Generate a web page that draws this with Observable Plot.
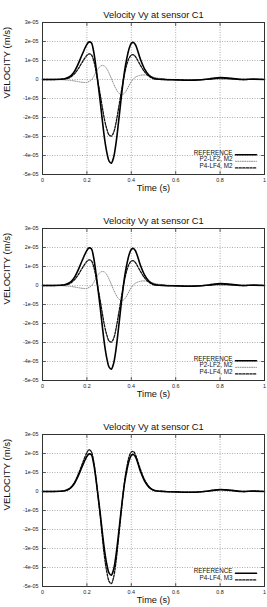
<!DOCTYPE html>
<html>
<head>
<meta charset="utf-8">
<script src="https://cdn.jsdelivr.net/npm/d3@7"></script>
<script src="https://cdn.jsdelivr.net/npm/@observablehq/plot@0.6"></script>
<style>
  html, body { margin: 0; padding: 0; background: #fff; }
  #chart { width: 267px; }
  #chart svg { display: block; }
</style>
</head>
<body>
<div id="chart"></div>
<script>
// ---- data (velocity values in units of 1e-05 m/s) ----
const time = [0,0.05,0.08,0.10,0.12,0.14,0.16,0.18,0.20,0.21,0.22,0.23,0.24,0.25,0.26,0.27,0.28,0.29,0.30,0.31,0.32,0.33,0.34,0.35,0.36,0.37,0.38,0.39,0.40,0.41,0.42,0.44,0.46,0.48,0.50,0.55,0.60,0.65,0.70,0.75,0.80,0.85,0.90,0.95,1.00];

const reference = [0,0,0.01,0.04,0.13,0.36,0.8,1.35,1.85,1.98,1.93,1.5,0.72,-0.2,-1.15,-2.2,-3.15,-3.85,-4.3,-4.4,-4.12,-3.45,-2.5,-1.45,-0.42,0.47,1.12,1.62,1.9,1.95,1.8,1.1,0.55,0.22,0.07,0,-0.02,-0.04,-0.03,0.03,0.1,0.06,0,0.02,0];

const p2lf2M2 = [0,0,-0.01,-0.02,-0.04,-0.07,-0.11,-0.15,-0.15,-0.1,-0.02,0.14,0.36,0.56,0.69,0.74,0.7,0.56,0.33,0.06,-0.22,-0.47,-0.66,-0.77,-0.79,-0.71,-0.53,-0.31,-0.11,0.04,0.13,0.22,0.24,0.2,0.12,0.03,0,0,0,0,0.01,0,0,0,0];

const p4lf4M2 = [0,0,0.01,0.03,0.09,0.25,0.55,0.93,1.27,1.35,1.3,1.02,0.5,-0.15,-0.8,-1.5,-2.15,-2.62,-2.92,-2.98,-2.8,-2.35,-1.7,-1.0,-0.3,0.32,0.8,1.12,1.28,1.3,1.18,0.77,0.4,0.17,0.05,0,-0.01,-0.03,-0.02,0.02,0.07,0.04,0,0.01,0];

const p4lf4M3 = [0,0,0.01,0.04,0.14,0.4,0.88,1.48,2.05,2.2,2.1,1.62,0.8,-0.25,-1.3,-2.45,-3.5,-4.25,-4.73,-4.85,-4.53,-3.8,-2.75,-1.6,-0.46,0.55,1.3,1.83,2.08,2.1,1.9,1.2,0.62,0.26,0.08,0,-0.02,-0.04,-0.03,0.03,0.1,0.06,0,0.02,0];

const xTicks = [0,0.2,0.4,0.6,0.8,1];
const xTickLabels = ["0","0.2","0.4","0.6","0.8","1"];
const yTicks = [-5,-4,-3,-2,-1,0,1,2,3];
const yTickLabels = ["-5e-05","-4e-05","-3e-05","-2e-05","-1e-05","0","1e-05","2e-05","3e-05"];

const titleText = "Velocity Vy at sensor C1";
const xLabel = "Time (s)";
const yLabel = "VELOCITY (m/s)";

// ---- styles ----
const styles = {
  "REFERENCE":  {stroke: "#000", strokeWidth: 1.6, strokeDasharray: null},
  "P2-LF2, M2": {stroke: "#8c8c8c", strokeWidth: 1.0, strokeDasharray: "1,1.3"},
  "P4-LF4, M2": {stroke: "#111", strokeWidth: 1.3, strokeDasharray: "2.2,1.4"},
  "P4-LF4, M3": {stroke: "#111", strokeWidth: 1.3, strokeDasharray: "2.2,1.4"}
};

const lineShape = {draw(context, l) { context.moveTo(0, 0); context.lineTo(0, -l); }};

function makeRows(names, valuesList) {
  const rows = [];
  names.forEach((name, k) => {
    time.forEach((t, i) => rows.push({series: name, t, v: valuesList[k][i]}));
  });
  return rows;
}

function panel(names, valuesList, height, marginBottom) {
  const rows = makeRows(names, valuesList);
  const drawOrder = names.slice(1).concat([names[0]]);
  const n = names.length;
  const legendDy = i => -6.6 - (n - 1 - i) * 6.6;
  const marks = [
    Plot.gridX(xTicks.slice(1, -1), {stroke: "#9a9a9a", strokeOpacity: 1, strokeDasharray: "1,1.5", strokeWidth: 0.8}),
    Plot.gridY(yTicks.slice(1, -1), {stroke: "#9a9a9a", strokeOpacity: 1, strokeDasharray: "1,1.5", strokeWidth: 0.8}),
    Plot.axisX(xTicks, {tickSize: 0, tickPadding: 4, fontSize: 5.4, tickFormat: (d, i) => xTickLabels[i], label: null, fill: "#222"}),
    Plot.axisY(yTicks, {tickSize: 0, tickPadding: 4, fontSize: 5.4, tickFormat: (d, i) => yTickLabels[i], label: null, fill: "#222"}),
    Plot.vector(xTicks, {x: d => d, frameAnchor: "bottom", length: 3, rotate: 0, anchor: "start", shape: lineShape, stroke: "#333", strokeWidth: 0.8}),
    Plot.vector(xTicks, {x: d => d, frameAnchor: "top", length: 3, rotate: 180, anchor: "start", shape: lineShape, stroke: "#333", strokeWidth: 0.8}),
    Plot.vector(yTicks, {y: d => d, frameAnchor: "left", length: 3, rotate: 90, anchor: "start", shape: lineShape, stroke: "#333", strokeWidth: 0.8}),
    Plot.vector(yTicks, {y: d => d, frameAnchor: "right", length: 3, rotate: 270, anchor: "start", shape: lineShape, stroke: "#333", strokeWidth: 0.8})
  ];
  drawOrder.forEach(name => {
    const s = styles[name];
    marks.push(Plot.line(rows.filter(r => r.series === name), {
      x: "t", y: "v", curve: "catmull-rom",
      stroke: s.stroke, strokeWidth: s.strokeWidth, strokeDasharray: s.strokeDasharray
    }));
  });
  names.forEach((name, i) => {
    const s = styles[name];
    marks.push(Plot.text([name], {frameAnchor: "bottom-right", dx: -32, dy: legendDy(i), textAnchor: "end", fontSize: 6.3, fill: "#111"}));
    marks.push(Plot.vector([name], {frameAnchor: "bottom-right", dx: -29, dy: legendDy(i), length: 21, rotate: 90, anchor: "start", shape: lineShape,
      stroke: s.stroke, strokeWidth: s.strokeWidth, strokeDasharray: s.strokeDasharray}));
  });
  marks.push(Plot.frame({stroke: "#333", strokeWidth: 1}));
  marks.push(Plot.text([titleText], {frameAnchor: "top", dy: -11, fontSize: 9.3, fill: "#111"}));
  marks.push(Plot.text([xLabel], {frameAnchor: "bottom", dy: 16, fontSize: 9.2, fill: "#111"}));
  marks.push(Plot.text([yLabel], {frameAnchor: "left", dx: -36, rotate: -90, fontSize: 9.6, fill: "#111"}));

  return Plot.plot({
    width: 267,
    height,
    marginTop: 22,
    marginBottom,
    marginLeft: 42,
    marginRight: 3,
    style: {fontFamily: "'Liberation Sans', Arial, sans-serif", background: "#fff", color: "#111", overflow: "visible"},
    x: {domain: [0, 1]},
    y: {domain: [-5, 3]},
    marks
  });
}

const chart = document.getElementById("chart");
chart.appendChild(panel(["REFERENCE", "P2-LF2, M2", "P4-LF4, M2"], [reference, p2lf2M2, p4lf4M2], 206, 32));
chart.appendChild(panel(["REFERENCE", "P2-LF2, M2", "P4-LF4, M2"], [reference, p2lf2M2, p4lf4M2], 206, 32));
chart.appendChild(panel(["REFERENCE", "P4-LF4, M3"], [reference, p4lf4M3], 195, 21));
</script>
</body>
</html>
